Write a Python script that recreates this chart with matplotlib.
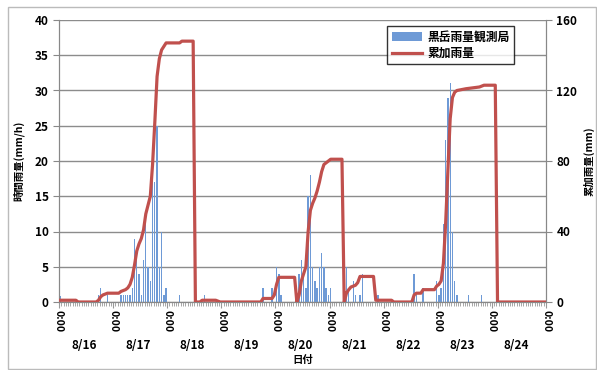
import numpy as np
import matplotlib
matplotlib.use("Agg")
import matplotlib.pyplot as plt
from matplotlib.patches import Rectangle
import matplotlib.transforms as mtransforms

plt.rcParams['font.family'] = ['Noto Sans CJK JP', 'DejaVu Sans']
plt.rcParams['font.weight'] = 'bold'

# hourly category index (0 = 8/16 0:00) and hourly rainfall (mm/h)
rain_hours = [0, 17, 18, 21, 27, 28, 29, 30, 31, 32, 33, 34, 35, 36, 37, 38, 39, 40,
              41, 42, 43, 44, 45, 46, 47, 53, 64,
              90, 94, 96, 97, 98, 106, 107, 108, 109, 110, 111, 112, 113, 114, 115,
              116, 117, 118, 119, 120, 127, 128, 130, 131, 133, 134, 141,
              157, 158, 161, 167, 168, 169, 170, 171, 172, 173, 174, 175, 176, 181, 187]
rain_values = [0.8, 1, 2, 1, 1, 1, 1, 1, 1, 2, 9, 7.5, 4, 1, 6, 11, 5, 3,
               22, 17, 25, 5, 10, 1, 2, 1, 1,
               2, 2, 5, 4, 1, 4, 6, 4, 2, 15, 18, 5, 3, 2, 5,
               7, 5, 2, 1, 2, 5, 2, 3, 1, 1, 4, 1,
               4, 1, 2, 3, 1, 2, 11, 23, 29, 31, 10, 3, 1, 1, 1]

# cumulative rainfall (mm), vertices of the line
cum_hours = [0, 7, 8, 16, 17, 18, 19, 21, 26, 27, 29, 30, 31, 32, 33, 34, 35, 36, 37,
             38, 39, 40, 41, 42, 43, 44, 45, 47, 53, 54, 59, 60,
             62, 63, 69, 71, 89, 90, 94, 95, 96, 97, 104, 105,
             106, 107, 108, 109, 110, 111, 112, 113, 114, 115, 116, 117, 118, 119, 120, 125, 126,
             127, 128, 129, 131, 132, 133, 139, 140, 147, 148, 156,
             157, 158, 160, 161, 166, 167, 168, 169, 170, 171, 172, 173, 174, 175, 176,
             180, 186, 188, 193, 194, 215]
cum_values = [1, 1, 0, 0, 1, 3, 4, 5, 5, 6, 7, 8, 10, 14, 21, 29, 33, 36, 41,
              50, 55, 60, 78, 102, 128, 138, 143, 147, 147, 148, 148, 0,
              0, 1, 1, 0, 0, 2, 2, 4, 10, 14, 14, 0,
              4, 12, 16, 20, 40, 52, 56, 59, 63, 68, 74, 78, 79, 80, 81, 81, 0,
              5, 7, 8.5, 9.5, 11, 14.5, 14.5, 1, 1, 0, 0,
              4, 5, 5, 7, 7, 9, 10, 12, 22, 45, 75, 104, 116, 119, 120,
              121, 122, 123, 123, 0, 0]

day_labels = ['8/16', '8/17', '8/18', '8/19', '8/20', '8/21', '8/22', '8/23', '8/24']
n_hours = 216

fig = plt.figure(figsize=(5.97, 3.70), dpi=100)
ax = fig.add_axes([59/597, 1-302/370, (546-59)/597, (302-20)/370])
ax2 = ax.twinx()

bx = np.array(rain_hours) + 0.5
ax.bar(bx, rain_values, width=0.6, color='#6E9AD6', edgecolor='none',
       label='黒岳雨量観測局', zorder=2)
ln, = ax2.plot(np.array(cum_hours) + 0.5, cum_values, color='#C0504D', lw=2.3,
               label='累加雨量', zorder=3)

ax.set_xlim(0, n_hours)
ax.set_ylim(0, 40)
ax2.set_ylim(0, 160)
ax.set_yticks(np.arange(0, 41, 5))
ax2.set_yticks(np.arange(0, 161, 40))
ax.yaxis.grid(True, color='#8C8C8C', lw=1.0)
ax.set_axisbelow(True)

ax.set_xticks(np.arange(0, n_hours + 1, 24))
ax.set_xticklabels(['0:00'] * 10, rotation=270, fontsize=7.5)
ax.set_xticks(np.arange(0, n_hours + 1, 1), minor=True)
ax.tick_params(axis='x', which='minor', length=3, color='#999999', width=0.6)
ax.tick_params(axis='x', which='major', length=4, color='#999999', pad=2)
ax.tick_params(axis='y', length=4, color='#888888', labelsize=8.5)
ax2.tick_params(axis='y', length=4, color='#888888', labelsize=8.5)

for a in (ax, ax2):
    for s in a.spines.values():
        s.set_color('#888888')
    a.spines['top'].set_visible(False)

trans = mtransforms.blended_transform_factory(ax.transData, ax.transAxes)
for i, d in enumerate(day_labels):
    ax.text(i * 24 + 11, -0.155, d, transform=trans, ha='center', va='center',
            fontsize=8.5, fontweight='bold')

ax.text(0.5, -0.205, '日付', transform=ax.transAxes, ha='center', va='center',
        fontsize=7.5, fontweight='bold')
ax.set_ylabel('時間雨量(mm/h)', fontsize=7.5, fontweight='bold')
ax.yaxis.set_label_coords(-0.072, 0.5)
ax2.set_ylabel('累加雨量(mm)', fontsize=7.5, fontweight='bold')
ax2.yaxis.set_label_coords(1.077, 0.5)

h1, l1 = ax.get_legend_handles_labels()
leg = ax2.legend(h1 + [ln], l1 + ['累加雨量'], loc='upper left',
                 bbox_to_anchor=((387-59)/487, 1-6/282), borderaxespad=0,
                 frameon=True, fancybox=False, borderpad=0.4, handlelength=2.6,
                 fontsize=8.5, labelspacing=0.25, handletextpad=0.4)
leg.get_frame().set_edgecolor('black')
leg.get_frame().set_linewidth(1.0)
for t in leg.get_texts():
    t.set_fontweight('bold')

fig.patches.append(Rectangle((8/597, 0.002), 1-8/597-0.002, 1-7/370-0.002,
                             transform=fig.transFigure, fill=False,
                             edgecolor='#BBBBBB', lw=1.0))

fig.savefig('out.png', dpi=100)
